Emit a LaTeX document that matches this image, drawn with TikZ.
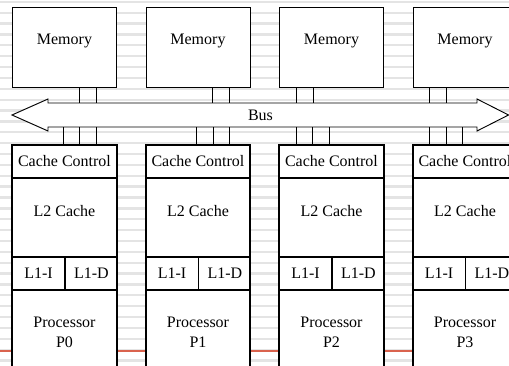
\documentclass[tikz,border=0pt]{standalone}
\usepackage{fontspec}
\setmainfont{Liberation Serif}
\usetikzlibrary{positioning}
\definecolor{stripe}{HTML}{E4E4E4}
\definecolor{redrule}{HTML}{DA634E}

\begin{document}
\begin{tikzpicture}[x=0.75pt, y=-0.75pt, every node/.style={font=\fontsize{12}{14.4}\selectfont}, box/.style={draw, fill=white, line width=0.7pt, inner sep=0pt, align=center, minimum width=78pt}, link/.style={line width=0.7pt}, frame/.style={line width=1.5pt}]
\useasboundingbox (0,0) rectangle (509,366);
\clip (0,0) rectangle (509,366);
% slide background
\fill[white] (0,0) rectangle (509,366);
\foreach \k in {0,...,33}
  \fill[stripe] (0,{0.7+10.87*\k}) rectangle (509,{3+10.87*\k});
\draw[redrule, line width=0.8pt] (0,351) -- (509,351);
% bus
\draw[link, fill=white] (12,115) -- (48,99) -- (48,103) -- (477,103) -- (477,99) -- (508.5,115) -- (477,131) -- (477,127) -- (48,127) -- (48,131) -- cycle;
\coordinate (bustop) at (260,103);
\coordinate (busbot) at (260,127);
\node (bus) at (260.5,115) {Bus};
% memories and processor columns
\foreach \i/\x/\m/\c in {0/12/67/51, 1/145.5/67/51, 2/279/17/17, 3/412.5/17/17} {
  \node[box, minimum height=60pt, text depth=12pt, anchor=north west] (mem\i) at (\x,7) {Memory};
  \node[box, minimum height=24pt, anchor=north west] (ctrl\i) at (\x,145) {Cache Control};
  \node[box, minimum height=58.5pt, text depth=9pt, below=0pt of ctrl\i] (ltwo\i) {L2 Cache};
  \node[box, minimum width=39pt, minimum height=24pt, below right=0pt of ltwo\i.south west] (lonei\i) {L1-I};
  \node[box, minimum width=39pt, minimum height=24pt, right=0pt of lonei\i] (loned\i) {L1-D};
  \node[box, minimum height=63pt, below right=0pt of lonei\i.south west] (proc\i) {Processor\\P\i};
  \draw[frame] (ctrl\i.north west) rectangle (proc\i.south east);
  \draw[link] (mem\i.south west) ++(\m,0) coordinate (a) -- (a |- bustop);
  \draw[link] (mem\i.south west) ++(\m+17,0) coordinate (a) -- (a |- bustop);
  \draw[link] (ctrl\i.north west) ++(\c,0) coordinate (b) -- (b |- busbot);
  \draw[link] (ctrl\i.north west) ++(\c+16.5,0) coordinate (b) -- (b |- busbot);
  \draw[link] (ctrl\i.north west) ++(\c+33,0) coordinate (b) -- (b |- busbot);
}
\end{tikzpicture}
\end{document}
